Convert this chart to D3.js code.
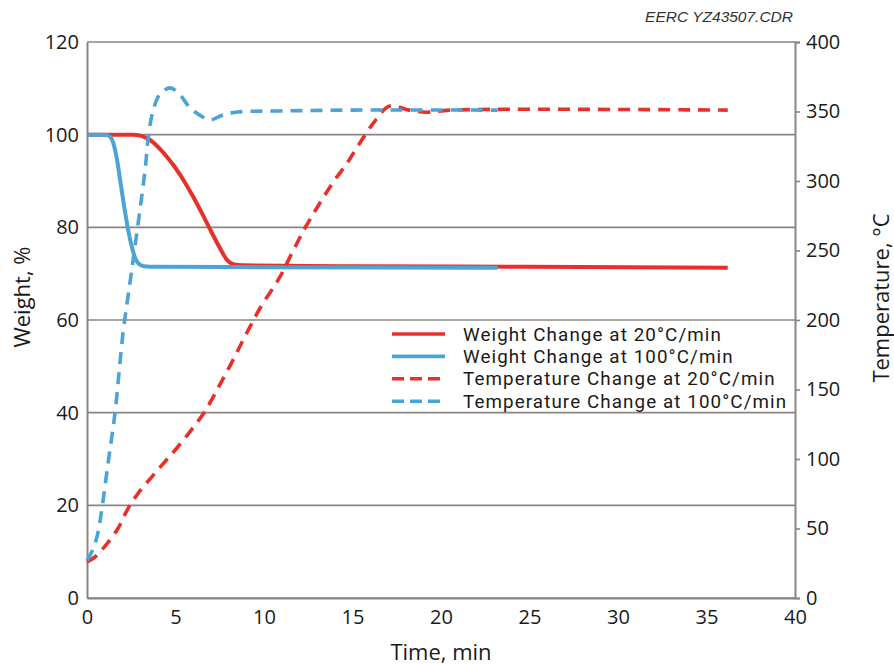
<!DOCTYPE html>
<html>
<head>
<meta charset="utf-8">
<script src="https://cdn.jsdelivr.net/npm/d3@7"></script>
<style>
  body { margin: 0; background: #fff; }
  svg { display: block; font-family: "Open Sans", sans-serif; }
</style>
</head>
<body>
<div id="chart"></div>
<script>
// weight curves (time in min, weight in %)
var timeW20 = [0, 2.6, 3.0, 3.5, 4.0, 4.5, 5.0, 5.5, 6.0, 6.5, 7.0, 7.5, 7.9, 8.3, 8.8, 15, 25, 36.2];
var weightW20 = [100, 100, 99.8, 99, 97.4, 95.3, 92.8, 89.9, 86.6, 83, 79.2, 75.6, 73, 72, 71.8, 71.6, 71.5, 71.3];

var timeW100 = [0, 1.0, 1.3, 1.5, 1.7, 1.9, 2.1, 2.3, 2.5, 2.7, 2.9, 3.2, 3.6, 10, 23.2];
var weightW100 = [100, 100, 99.6, 98, 94.5, 89.5, 84.5, 80, 76.3, 73.6, 72.2, 71.6, 71.5, 71.4, 71.3];

// temperature curves (time in min, temperature in °C)
var timeT20 = [0, 0.45, 1.0, 1.75, 2.3, 2.9, 3.65, 4.4, 5.15, 5.9, 6.65, 7.4, 8.2, 9.0, 9.8, 10.9,
               11.65, 12.4, 13.15, 13.9, 14.7, 15.4, 16.2, 17.1, 18.2, 19.2, 20.5, 36.2];
var tempT20 = [26, 29.5, 37, 50, 64, 75.5, 87, 98, 109, 121, 134, 151, 170, 190, 209, 231,
               250, 268, 284, 299, 313, 327, 342, 354, 351, 349.5, 351, 351];

var timeT100 = [0, 0.3, 0.6, 0.85, 1.2, 1.58, 2.03, 2.43, 2.7, 3.0, 3.3, 3.45, 3.7, 4.1, 4.7,
                5.25, 5.8, 6.55, 6.95, 7.7, 8.5, 10.9, 15, 23.2];
var tempT100 = [27, 34, 46, 65, 98, 133, 190, 227, 252, 280, 310, 330, 349, 362, 367,
                362, 353, 346, 344, 347.5, 349.6, 350.4, 351, 351];

var xTicks = [0, 5, 10, 15, 20, 25, 30, 35, 40];
var weightTicks = [0, 20, 40, 60, 80, 100, 120];
var tempTicks = [0, 50, 100, 150, 200, 250, 300, 350, 400];

var legendLabels = ["Weight Change at 20°C/min", "Weight Change at 100°C/min",
                    "Temperature Change at 20°C/min", "Temperature Change at 100°C/min"];

var red = "#e8302a", blue = "#4ca3d6", axisCol = "#8c8480";

var margin = { top: 42, right: 99, bottom: 67, left: 87 },
    width = 894 - margin.left - margin.right,
    height = 665 - margin.top - margin.bottom;

var svg = d3.select("#chart").append("svg")
    .attr("width", 894)
    .attr("height", 665);

var g = svg.append("g")
    .attr("transform", "translate(" + margin.left + "," + margin.top + ")");

var x = d3.scaleLinear().domain([0, 40]).range([0, width]);
var yW = d3.scaleLinear().domain([0, 120]).range([height, 0]);
var yT = d3.scaleLinear().domain([0, 400]).range([height, 0]);

// gridlines
g.selectAll(".grid")
    .data(weightTicks)
    .enter().append("line")
    .attr("x1", 0).attr("x2", width)
    .attr("y1", function (d) { return yW(d); })
    .attr("y2", function (d) { return yW(d); })
    .attr("stroke", axisCol)
    .attr("stroke-width", 1.6);

// left axis
var leftAx = g.append("g")
    .call(d3.axisLeft(yW).tickValues(weightTicks).tickSize(0).tickPadding(8));
leftAx.select(".domain").attr("stroke", axisCol).attr("stroke-width", 2);
leftAx.selectAll("text").attr("font-size", 20).attr("fill", "#1a1a1a")
    .attr("font-family", "'Open Sans', sans-serif");

// right axis
var rightAx = g.append("g")
    .attr("transform", "translate(" + width + ",0)")
    .call(d3.axisRight(yT).tickValues(tempTicks).tickSize(5).tickPadding(6));
rightAx.select(".domain").attr("stroke", axisCol).attr("stroke-width", 2);
rightAx.selectAll("line").attr("stroke", axisCol).attr("stroke-width", 1.6);
rightAx.selectAll("text").attr("font-size", 20).attr("fill", "#1a1a1a")
    .attr("font-family", "'Open Sans', sans-serif");

// bottom axis
var bottomAx = g.append("g")
    .attr("transform", "translate(0," + height + ")")
    .call(d3.axisBottom(x).tickValues(xTicks).tickSize(0).tickPadding(12));
bottomAx.select(".domain").attr("stroke", axisCol).attr("stroke-width", 2);
bottomAx.selectAll("text").attr("font-size", 20).attr("fill", "#1a1a1a")
    .attr("font-family", "'Open Sans', sans-serif");

function pairs(ts, vs) {
    return ts.map(function (t, i) { return [t, vs[i]]; });
}

var lineW = d3.line()
    .x(function (d) { return x(d[0]); })
    .y(function (d) { return yW(d[1]); })
    .curve(d3.curveMonotoneX);

var lineT = d3.line()
    .x(function (d) { return x(d[0]); })
    .y(function (d) { return yT(d[1]); })
    .curve(d3.curveCatmullRom.alpha(0.5));

g.append("path").datum(pairs(timeW20, weightW20))
    .attr("d", lineW).attr("fill", "none")
    .attr("stroke", red).attr("stroke-width", 4);

g.append("path").datum(pairs(timeW100, weightW100))
    .attr("d", lineW).attr("fill", "none")
    .attr("stroke", blue).attr("stroke-width", 4);

g.append("path").datum(pairs(timeT20, tempT20))
    .attr("d", lineT).attr("fill", "none")
    .attr("stroke", red).attr("stroke-width", 3.6)
    .attr("stroke-dasharray", "12,8");

g.append("path").datum(pairs(timeT100, tempT100))
    .attr("d", lineT).attr("fill", "none")
    .attr("stroke", blue).attr("stroke-width", 3.6)
    .attr("stroke-dasharray", "12,8");

// legend
var legend = svg.append("g").attr("transform", "translate(392,334)");
var legColors = [red, blue, red, blue];
var legDash = [null, null, "12,6", "12,6"];
legendLabels.forEach(function (lab, i) {
    var row = legend.append("g").attr("transform", "translate(0," + (i * 22.4) + ")");
    row.append("line")
        .attr("x1", 0).attr("x2", 53).attr("y1", 0).attr("y2", 0)
        .attr("stroke", legColors[i]).attr("stroke-width", 3.6)
        .attr("stroke-dasharray", legDash[i]);
    row.append("text")
        .attr("x", 71).attr("y", 0).attr("dy", "0.35em")
        .attr("font-family", "Roboto, sans-serif")
        .attr("font-size", 18.8).attr("letter-spacing", 1.1).attr("fill", "#1a1a1a")
        .text(lab);
});

// axis titles
svg.append("text")
    .attr("transform", "translate(30,297) rotate(-90)")
    .attr("text-anchor", "middle")
    .attr("font-size", 22).attr("fill", "#1a1a1a")
    .text("Weight, %");

svg.append("text")
    .attr("x", 441).attr("y", 660)
    .attr("text-anchor", "middle")
    .attr("font-size", 22).attr("fill", "#1a1a1a")
    .text("Time, min");

svg.append("text")
    .attr("transform", "translate(889,298) rotate(-90)")
    .attr("text-anchor", "middle")
    .attr("font-size", 22).attr("fill", "#1a1a1a")
    .text("Temperature, °C");

svg.append("text")
    .attr("x", 793).attr("y", 22)
    .attr("text-anchor", "end")
    .attr("font-family", "'Liberation Sans', Arial, sans-serif")
    .attr("font-style", "italic")
    .attr("font-size", 15.5).attr("fill", "#333")
    .text("EERC YZ43507.CDR");
</script>
</body>
</html>
